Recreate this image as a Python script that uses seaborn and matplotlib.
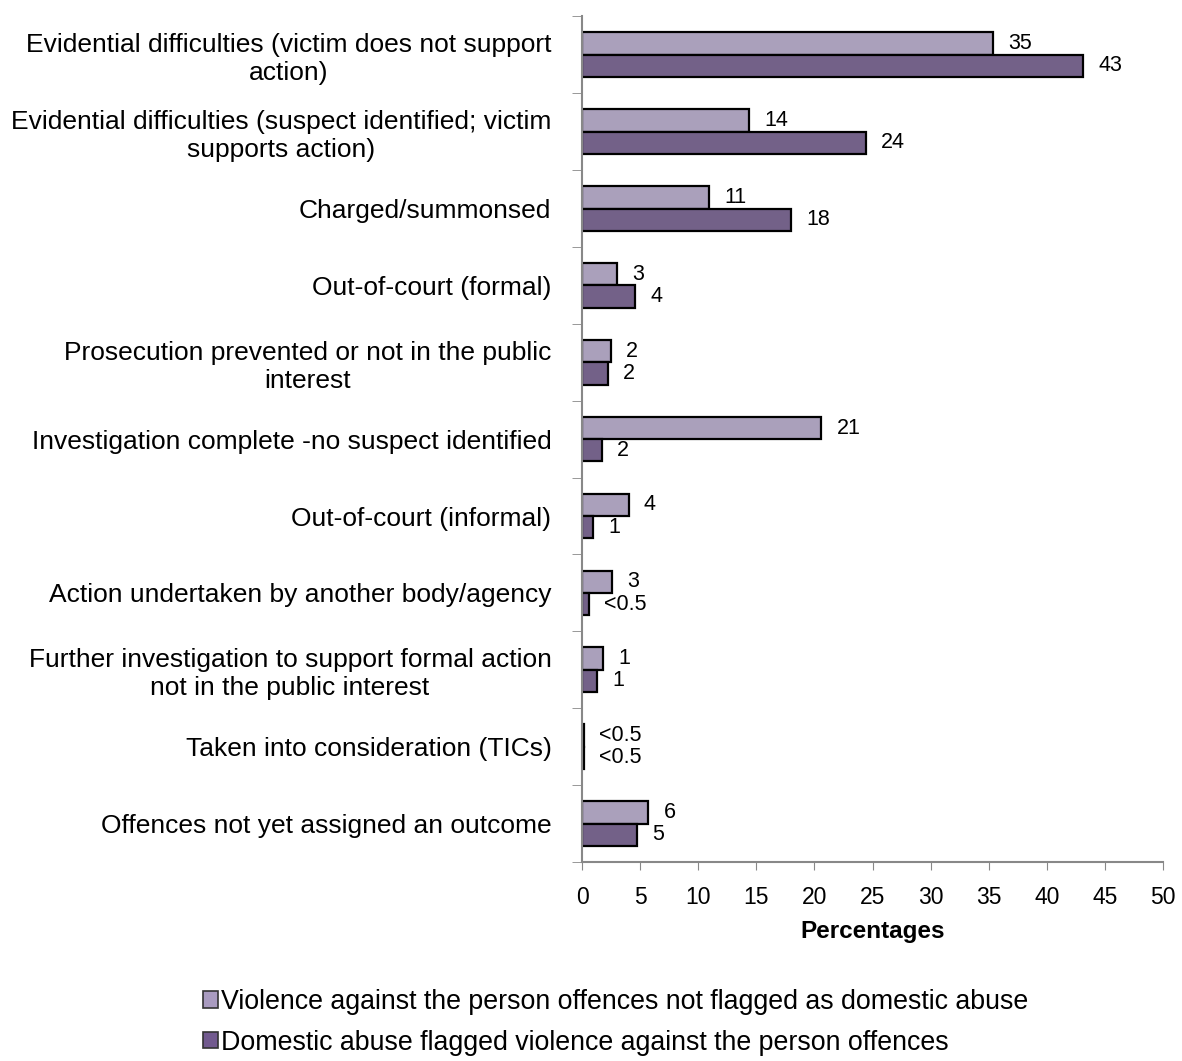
import pandas as pd
import matplotlib
matplotlib.use("Agg")
import matplotlib.pyplot as plt
import seaborn as sns
from matplotlib.patches import Patch

categories = [
    "Evidential difficulties (victim does not support\naction)",
    "Evidential difficulties (suspect identified; victim\nsupports action)",
    "Charged/summonsed",
    "Out-of-court (formal)",
    "Prosecution prevented or not in the public\ninterest",
    "Investigation complete -no suspect identified",
    "Out-of-court (informal)",
    "Action undertaken by another body/agency",
    "Further investigation to support formal action\nnot in the public interest",
    "Taken into consideration (TICs)",
    "Offences not yet assigned an outcome",
]
not_flagged = [35.4, 14.4, 10.9, 3.0, 2.5, 20.6, 4.0, 2.6, 1.8, 0.15, 5.7]
domestic = [43.1, 24.4, 18.0, 4.6, 2.2, 1.7, 0.95, 0.6, 1.3, 0.15, 4.7]
labels_nf = ["35", "14", "11", "3", "2", "21", "4", "3", "1", "<0.5", "6"]
labels_da = ["43", "24", "18", "4", "2", "2", "1", "<0.5", "1", "<0.5", "5"]
series = ["Violence against the person offences not flagged as domestic abuse",
          "Domestic abuse flagged violence against the person offences"]
colors = ["#A99BC0", "#725A8F"]

df = pd.DataFrame({
    "Outcome": categories * 2,
    "Pct": not_flagged + domestic,
    "Series": [series[0]] * len(categories) + [series[1]] * len(categories),
})

sns.set_style("white")
plt.rcParams["font.family"] = ["Liberation Sans", "DejaVu Sans"]
plt.rcParams["text.color"] = "black"
plt.rcParams["axes.labelcolor"] = "black"
plt.rcParams["xtick.color"] = "black"
plt.rcParams["ytick.color"] = "black"

fig = plt.figure(figsize=(11.82, 10.61), dpi=100)
ax = fig.add_axes([0.4924, 0.1876, 0.4916, 0.797])

sns.barplot(df, x="Pct", y="Outcome", hue="Series", palette=colors,
            orient="h", width=0.58, edgecolor="black", linewidth=1.6,
            legend=False, ax=ax)

for cont, labs in zip(ax.containers, [labels_nf, labels_da]):
    ax.bar_label(cont, labels=labs, padding=11, fontsize=15.5)

ax.set_xlim(0, 50)
ax.set_ylim(len(categories) - 0.5, -0.5)
ax.set_xticks(range(0, 51, 5))
ax.tick_params(axis="x", labelsize=16.5, length=6, color="#888888",
               direction="out", bottom=True, pad=11)
ax.tick_params(axis="y", which="major", labelsize=19, length=0, pad=22)
ax.set_yticks([i + 0.5 for i in range(-1, len(categories))], minor=True)
ax.tick_params(axis="y", which="minor", length=7, color="#888888", left=True)
for lab in ax.get_yticklabels():
    lab.set_multialignment("center")

ax.set_ylabel("")
ax.set_xlabel("Percentages", fontsize=17.5, fontweight="bold", labelpad=8)
for s in ["top", "right"]:
    ax.spines[s].set_visible(False)
ax.spines["left"].set_color("#888888")
ax.spines["bottom"].set_color("#888888")
ax.spines["left"].set_linewidth(1.5)
ax.spines["bottom"].set_linewidth(1.5)

handles = [Patch(facecolor=c, edgecolor="#333333", linewidth=1.2) for c in colors]
fig.legend(handles, series, loc="upper left", bbox_to_anchor=(0.163, 0.078),
           frameon=False, fontsize=19.3, handlelength=0.55, handleheight=0.55,
           handletextpad=0.1, labelspacing=0.55, borderaxespad=0)

fig.savefig("out.png", dpi=100)
